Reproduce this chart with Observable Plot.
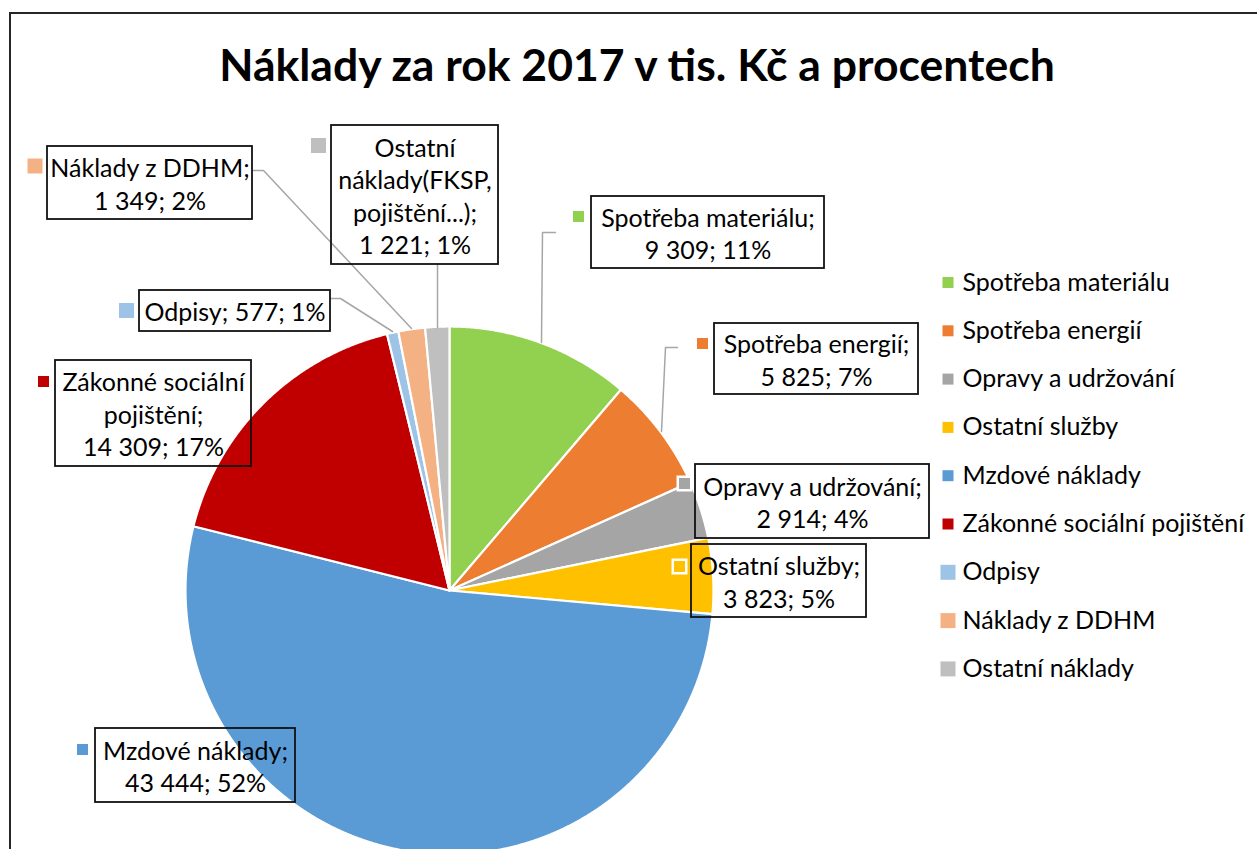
<!DOCTYPE html>
<html>
<head>
<meta charset="utf-8">
<script src="https://cdn.jsdelivr.net/npm/d3@7"></script>
<script src="https://cdn.jsdelivr.net/npm/@observablehq/plot@0.6"></script>
<style>
  html, body { margin: 0; padding: 0; background: #fff; }
  #chart { position: relative; width: 1257px; height: 849px; overflow: hidden; background: #fff; font-family: Lato, "Open Sans", sans-serif; }
  #frame { position: absolute; left: 9px; top: 12px; width: 1400px; height: 1000px; border-left: 2px solid #262626; border-top: 2px solid #262626; z-index: 3; pointer-events: none; }
  #title { position: absolute; left: 0; top: 35px; width: 1274px; text-align: center; font-weight: bold; font-size: 44.5px; line-height: 58px; color: #000; z-index: 2; }
  #plot { position: absolute; left: 0; top: 100px; z-index: 1; }
</style>
</head>
<body>
<div id="chart">
  <div id="frame"></div>
  <div id="title">Náklady za rok 2017 v tis. Kč a procentech</div>
  <div id="plot"></div>
</div>
<script>
// ---- data ----
const categories = ["Spotřeba materiálu", "Spotřeba energií", "Opravy a udržování", "Ostatní služby", "Mzdové náklady", "Zákonné sociální pojištění", "Odpisy", "Náklady z DDHM", "Ostatní náklady"];
const values = [9309, 5825, 2914, 3823, 43444, 14309, 577, 1349, 1221];
const labelNames = ["Spotřeba materiálu;", "Spotřeba energií;", "Opravy a udržování;", "Ostatní služby;", "Mzdové náklady;", "Zákonné sociální\npojištění;", "Odpisy;", "Náklady z DDHM;", "Ostatní\nnáklady(FKSP,\npojištění...);"];
const colors = ["#92D050", "#ED7D31", "#A5A5A5", "#FFC000", "#5B9BD5", "#C00000", "#9DC3E6", "#F4B183", "#BFBFBF"];

// ---- layout (page pixel coordinates) ----
const pieCenter = {x: 449, y: 590};
const pieRadius = 264;
// label boxes [x1, y1, x2, y2], marker centre, whether the label sits on one line with its value
const labelBoxes = [
  [591, 196, 824, 268], [714, 323, 918, 394], [695, 464, 929, 538], [691, 544, 866, 617],
  [95, 728, 295, 802], [55, 360, 251, 466], [139, 290, 330, 331], [47, 146, 252, 219], [331, 125, 498, 264]
];
const markerPos = [
  [578, 216], [702, 343], [684, 483], [679, 566], [82, 749], [43, 381], [126, 310], [34.5, 165.5], [318, 145]
];
const markerBig = [false, false, false, false, false, false, true, true, true];
const markerHalo = [false, false, true, true, false, false, false, false, false];
const oneLine = [false, false, false, false, false, false, true, false, false];
const leaderLines = [
  {i: 0, pts: [[541, 342], [542, 232], [555, 232]]},
  {i: 1, pts: [[661, 431], [665, 347], [677, 347]]},
  {i: 8, pts: [[437, 327], [437, 264]]},
  {i: 7, pts: [[411, 328], [263, 170], [252, 170]]},
  {i: 6, pts: [[392, 331], [340, 298], [330, 298]]}
];
const legendX = 947.5, legendTextX = 962, legendY0 = 282, legendStep = 48.3;

// ---- derived ----
const total = d3.sum(values);
const fmt = d3.formatLocale({decimal: ",", thousands: "\u00a0", grouping: [3], currency: ["", " Kč"]}).format(",d");
const labels = categories.map((c, i) => {
  const pct = Math.round(values[i] / total * 100) + "%";
  const valueText = fmt(values[i]) + "; " + pct;
  return labelNames[i] + (oneLine[i] ? " " : "\n") + valueText;
});

const arcs = d3.pie().sort(null).value(d => d)(values);
const slicePts = [];
arcs.forEach((a, i) => {
  const cat = categories[i];
  slicePts.push({cat, x: pieCenter.x, y: pieCenter.y});
  const n = Math.max(2, Math.ceil((a.endAngle - a.startAngle) / 0.004));
  for (let k = 0; k <= n; k++) {
    const t = a.startAngle + (a.endAngle - a.startAngle) * k / n;
    slicePts.push({cat, x: pieCenter.x + pieRadius * Math.sin(t), y: pieCenter.y - pieRadius * Math.cos(t)});
  }
  slicePts.push({cat, x: pieCenter.x, y: pieCenter.y});
});

const boxes = labelBoxes.map((b, i) => ({cat: categories[i], x1: b[0], y1: b[1], x2: b[2], y2: b[3], label: labels[i], cx: (b[0] + b[2]) / 2, cy: (b[1] + b[3]) / 2}));
const markers = markerPos.map((p, i) => ({cat: categories[i], x: p[0], y: p[1], big: markerBig[i], halo: markerHalo[i]}));
const leaders = leaderLines.flatMap(l => l.pts.map(p => ({id: l.i, x: p[0], y: p[1]})));
const legend = categories.map((c, i) => ({cat: c, x: legendX, tx: legendTextX, y: legendY0 + i * legendStep, big: markerBig[i]}));

const sq = side => side / Math.sqrt(Math.PI);

const plot = Plot.plot({
  width: 1257,
  height: 749,
  margin: 0,
  style: {background: "transparent", fontFamily: "Lato, 'Open Sans', sans-serif", overflow: "hidden"},
  x: {domain: [0, 1257], range: [0, 1257], axis: null},
  y: {domain: [100, 849], range: [0, 749], axis: null},
  color: {domain: categories, range: colors},
  marks: [
    Plot.line(slicePts, {x: "x", y: "y", z: "cat", fill: "cat", stroke: "white", strokeWidth: 2.2, strokeLinejoin: "round", curve: "linear"}),
    Plot.line(leaders, {x: "x", y: "y", z: "id", stroke: "#A6A6A6", strokeWidth: 1.5}),
    Plot.rect(boxes, {x1: "x1", x2: "x2", y1: "y1", y2: "y2", fill: "none", stroke: "#111", strokeWidth: 1.8}),
    Plot.text(boxes, {x: "cx", y: "cy", text: "label", fontSize: 25, lineHeight: 1.3, lineAnchor: "middle", textAnchor: "middle", fill: "#000"}),
    Plot.dot(markers.filter(d => d.halo), {x: "x", y: "y", symbol: "square", r: sq(16), fill: "white", stroke: "none"}),
    Plot.dot(markers.filter(d => !d.big), {x: "x", y: "y", symbol: "square", r: sq(11), fill: "cat", stroke: "none"}),
    Plot.dot(markers.filter(d => d.big), {x: "x", y: "y", symbol: "square", r: sq(15), fill: "cat", stroke: "none"}),
    Plot.dot(legend.filter(d => !d.big), {x: "x", y: "y", symbol: "square", r: sq(11), fill: "cat", stroke: "none"}),
    Plot.dot(legend.filter(d => d.big), {x: "x", y: "y", symbol: "square", r: sq(15), fill: "cat", stroke: "none"}),
    Plot.text(legend, {x: "tx", y: "y", text: "cat", textAnchor: "start", lineAnchor: "middle", fontSize: 25, fill: "#000"})
  ]
});
document.getElementById("plot").appendChild(plot);
</script>
</body>
</html>
